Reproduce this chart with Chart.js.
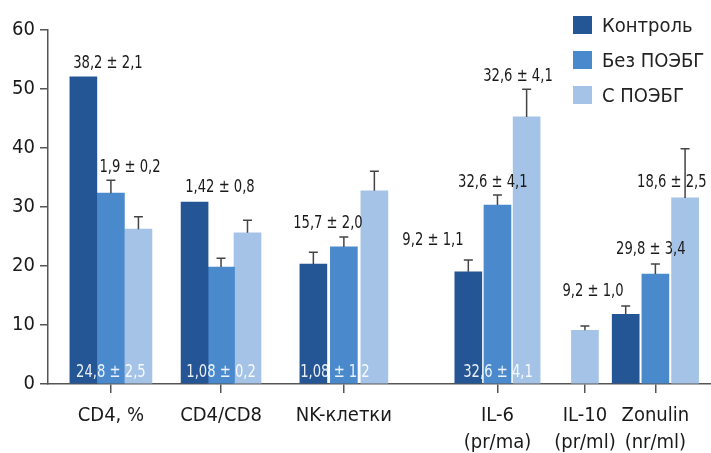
<!DOCTYPE html>
<html>
<head>
<meta charset="utf-8">
<script src="https://cdn.jsdelivr.net/npm/chart.js@4/dist/chart.umd.min.js"></script>
<style>
  html, body { margin: 0; padding: 0; background: #fff; }
  #wrap { position: relative; width: 711px; height: 453px; }
  #legend { position: absolute; left: 573px; top: 7px; font-family: "DejaVu Sans Condensed", "DejaVu Sans", sans-serif; font-size: 20px; color: #222; }
  .row { display: flex; align-items: center; height: 35px; }
  .box { width: 19px; height: 18px; margin-right: 10px; }
</style>
</head>
<body>
<div id="wrap">
  <canvas id="c" width="711" height="453"></canvas>
  <div id="legend"></div>
</div>
<script>
// ---- data ----
const categories = ['CD4, %', 'CD4/CD8', 'NK-клетки', ['IL-6', '(pr/ma)'], ['IL-10', '(pr/ml)'], ['Zonulin', '(nr/ml)']];
const seriesNames = ['Контроль', 'Без ПОЭБГ', 'С ПОЭБГ'];
const control    = [52.0, 30.8, 20.3, 19.0, null, 11.8];
const controlErr = [null, null, 2.0, 2.0, null, 1.4];
const without    = [32.3, 19.8, 23.2, 30.3, null, 18.6];
const withoutErr = [2.2, 1.5, 1.7, 1.7, null, 1.7];
const withP      = [26.2, 25.6, 32.7, 45.2, 9.1, 31.5];
const withPErr   = [2.1, 2.1, 3.3, 4.7, 0.7, 8.3];
const yTicks = [0, 10, 20, 30, 40, 50, 60];
const annotTexts = ['38,2 ± 2,1', '1,9 ± 0,2', '1,42 ± 0,8', '15,7 ± 2,0', '32,6 ± 4,1', '32,6 ± 4,1', '18,6 ± 2,5', '9,2 ± 1,1', '29,8 ± 3,4', '9,2 ± 1,0'];
const innerTexts = ['24,8 ± 2,5', '1,08 ± 0,2', '1,08 ± 1,2', '32,6 ± 4,1'];

// ---- layout (axis units, not data) ----
const groupX = [2.33, 6.41, 10.96, 16.65, 19.89, 22.5];
const groupSpread = [1.02, 0.98, 1.13, 1.08, 1.0, 1.1];
const xMax = 24.56;
const annotPos = [[2.22, 54.25], [3.04, 36.7], [6.37, 33.3], [10.37, 27.2], [17.41, 52.05], [16.48, 34.1], [23.11, 34.1], [14.26, 24.2], [22.33, 22.8], [20.19, 15.7]];
const innerPos = [[2.33, 2.0], [6.41, 2.0], [10.63, 2.0], [16.67, 2.0]];
const colors = ['#245595', '#4a89cc', '#a4c3e6'];
const FONT = '"DejaVu Sans Condensed", "DejaVu Sans", sans-serif';

function toPoints(vals, si) {
  const out = [];
  vals.forEach((v, i) => {
    if (v === null) return;
    const single = [control[i], without[i], withP[i]].filter(x => x !== null).length === 1;
    const off = single ? 0 : (si - 1) * groupSpread[i];
    out.push({ x: groupX[i] + off, y: v, i: i });
  });
  return out;
}
const allVals = [control, without, withP];
const allErr = [controlErr, withoutErr, withPErr];

function condensedText(ctx, t, x, y) {
  ctx.save();
  ctx.translate(x, y);
  ctx.scale(0.86, 1);
  ctx.fillText(t, 0, 0);
  ctx.restore();
}

const errPlugin = {
  id: 'errs',
  afterDatasetsDraw(chart) {
    const ctx = chart.ctx;
    const ys = chart.scales.y;
    ctx.save();
    ctx.strokeStyle = '#444';
    ctx.lineWidth = 1.5;
    chart.data.datasets.forEach((ds, di) => {
      const meta = chart.getDatasetMeta(di);
      meta.data.forEach((bar, k) => {
        const pt = ds.data[k];
        const e = allErr[di][pt.i];
        if (e === null || e === undefined) return;
        const yTop = ys.getPixelForValue(pt.y + e);
        ctx.beginPath();
        ctx.moveTo(bar.x, bar.y);
        ctx.lineTo(bar.x, yTop);
        ctx.moveTo(bar.x - 4.5, yTop);
        ctx.lineTo(bar.x + 4.5, yTop);
        ctx.stroke();
      });
    });
    // annotations
    const xs = chart.scales.x;
    ctx.font = '17px ' + FONT;
    ctx.textAlign = 'center';
    ctx.textBaseline = 'middle';
    ctx.fillStyle = '#1a1a1a';
    annotTexts.forEach((t, k) => {
      condensedText(ctx, t, xs.getPixelForValue(annotPos[k][0]), ys.getPixelForValue(annotPos[k][1]));
    });
    ctx.fillStyle = 'rgba(255,255,255,0.9)';
    innerTexts.forEach((t, k) => {
      condensedText(ctx, t, xs.getPixelForValue(innerPos[k][0]), ys.getPixelForValue(innerPos[k][1]));
    });
    ctx.restore();
  }
};

const chart = new Chart(document.getElementById('c'), {
  type: 'bar',
  data: {
    datasets: allVals.map((vals, si) => ({
      label: seriesNames[si],
      data: toPoints(vals, si),
      backgroundColor: colors[si],
      borderWidth: 0,
      barThickness: 27,
      grouped: false
    }))
  },
  options: {
    responsive: false,
    animation: false,
    devicePixelRatio: 1,
    layout: { padding: { top: 29.5, right: 0, left: 0, bottom: 0 } },
    plugins: { legend: { display: false }, tooltip: { enabled: false } },
    scales: {
      x: {
        type: 'linear',
        offset: false,
        min: 0, max: xMax,
        afterBuildTicks: (scale) => { scale.ticks = groupX.map(v => ({ value: v })); },
        afterFit: (scale) => { scale.height = 69; },
        ticks: {
          autoSkip: false, maxRotation: 0, padding: 9,
          color: '#1a1a1a',
          font: { family: FONT, size: 20, lineHeight: 1.35 },
          callback: (v, idx) => categories[idx]
        },
        grid: { offset: false, drawOnChartArea: false, drawTicks: true, tickLength: 9, color: '#555', lineWidth: 1.5 },
        border: { display: true, color: '#555', width: 1.5 }
      },
      y: {
        min: 0, max: 60,
        afterBuildTicks: (scale) => { scale.ticks = yTicks.map(v => ({ value: v })); },
        afterFit: (scale) => { scale.width = 48; },
        ticks: { color: '#1a1a1a', padding: 5, font: { family: FONT, size: 20 } },
        grid: { drawOnChartArea: false, drawTicks: true, tickLength: 8, color: '#555', lineWidth: 1.5 },
        border: { display: true, color: '#555', width: 1.5 }
      }
    }
  },
  plugins: [errPlugin]
});

// HTML legend from datasets
const lg = document.getElementById('legend');
chart.data.datasets.forEach(ds => {
  const r = document.createElement('div'); r.className = 'row';
  const b = document.createElement('div'); b.className = 'box'; b.style.background = ds.backgroundColor;
  const s = document.createElement('span'); s.textContent = ds.label;
  r.appendChild(b); r.appendChild(s); lg.appendChild(r);
});
</script>
</body>
</html>
